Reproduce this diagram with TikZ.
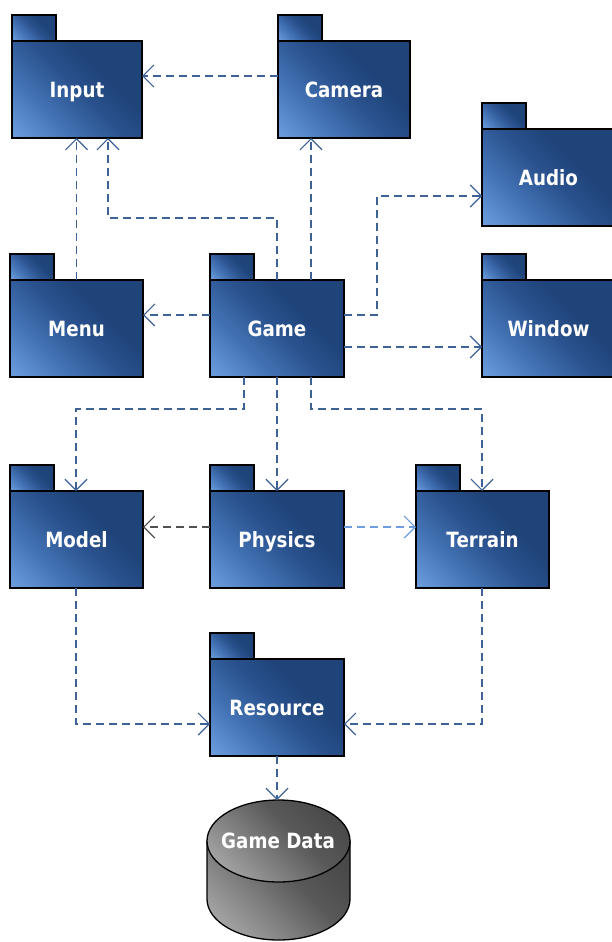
\documentclass[tikz,border=0pt]{standalone}
\usepackage{fontspec}
\setmainfont{DejaVu Sans}
\newfontfamily\lblfont{DejaVu Sans}[FakeStretch=0.87]
\usetikzlibrary{arrows.meta}
\definecolor{depblue}{RGB}{62,98,150}
\definecolor{depgray}{RGB}{80,80,80}
\definecolor{deplight}{RGB}{110,158,224}
\pgfdeclarehorizontalshading{pkgshade}{100bp}{%
  color(0bp)=(rgb,255:red,118;green,168;blue,232);
  color(15bp)=(rgb,255:red,108;green,158;blue,222);
  color(33bp)=(rgb,255:red,68;green,116;blue,182);
  color(50bp)=(rgb,255:red,42;green,82;blue,142);
  color(63bp)=(rgb,255:red,31;green,68;blue,122);
  color(100bp)=(rgb,255:red,31;green,68;blue,122)}
\pgfdeclarehorizontalshading{cylshade}{100bp}{%
  color(0bp)=(rgb,255:red,195;green,195;blue,195);
  color(15bp)=(rgb,255:red,182;green,182;blue,182);
  color(38bp)=(rgb,255:red,132;green,132;blue,132);
  color(58bp)=(rgb,255:red,88;green,88;blue,88);
  color(75bp)=(rgb,255:red,74;green,74;blue,74);
  color(100bp)=(rgb,255:red,74;green,74;blue,74)}
\tikzset{
  lbl/.style={text=white, font=\lblfont\bfseries\fontsize{21}{25}\selectfont,
    text height=15pt, text depth=0pt},
  pkgbody/.style={draw=black, line width=1.3pt, anchor=north west,
    shading=pkgshade, shading angle=45, lbl,
    minimum width=#1, minimum height=97pt, inner sep=0pt, outer sep=0pt},
  pkgbody/.default=133pt,
  pkgtab/.style={draw=black, line width=1.3pt, shading=pkgshade, shading angle=45},
  dep/.style={draw=depblue, line width=1.2pt, dash pattern=on 8pt off 5pt,
    -{Straight Barb[length=11pt,width=22pt]}},
  cylpart/.style={draw=black, line width=1.3pt, shading=cylshade, shading angle=45},
}
\newcommand\pkg[5]{%
  \node[pkgbody=#4] (#1) at (#2,#3) {#5};
  \draw[pkgtab] (#1.north west) rectangle ++(44,-26);
}
\begin{document}
\begin{tikzpicture}[x=1pt,y=-1pt]
\clip (0,0) rectangle (612,942);
\fill[white] (0,0) rectangle (612,942);

\pkg{Input}{12}{41}{130pt}{Input}
\pkg{Camera}{278}{41}{132pt}{Camera}
\pkg{Audio}{482}{129}{133pt}{Audio}
\pkg{Menu}{10}{280}{133pt}{Menu}
\pkg{Game}{210}{280}{134pt}{Game}
\pkg{Window}{482}{280}{133pt}{Window}
\pkg{Model}{10}{491}{133pt}{Model}
\pkg{Physics}{210}{491}{134pt}{Physics}
\pkg{Terrain}{416}{491}{133pt}{Terrain}
\pkg{Resource}{210}{659}{134pt}{Resource}

% database cylinder
\shade[cylpart] (207,841) -- (207,899) arc[start angle=180, end angle=0, x radius=71.5, y radius=41] -- (350,841) -- cycle;
\shade[cylpart] (207,841) arc[start angle=180, end angle=0, x radius=71.5, y radius=41]
  arc[start angle=0, end angle=-180, x radius=71.5, y radius=41] -- cycle;
\node[lbl] (db) at (278,841) {Game Data};
\coordinate (dbtop) at (278,800);

% helper coordinates
\coordinate (r1) at (0,76);
\coordinate (c3) at (108,218);
\coordinate (c4) at (311,0);
\coordinate (c5a) at (377,315);
\coordinate (c5b) at (377,196);
\coordinate (c6) at (0,347);
\coordinate (c8a) at (244,409);
\coordinate (c8b) at (76,409);
\coordinate (c10a) at (311,409);
\coordinate (c10b) at (482,409);
\coordinate (c11) at (0,527);
\coordinate (c13) at (76,724);
\coordinate (c14) at (482,724);

% dependencies
\draw[dep] (Camera.west |- r1) -- (Input.east |- r1);
\draw[dep] (Menu.north) -- (Menu.north |- Input.south);
\draw[dep] (Game.north) |- (c3) -- (c3 |- Input.south);
\draw[dep] (Game.north -| c4) -- (Camera.south -| c4);
\draw[dep] (Game.east |- c5a) -- (c5a) -- (c5b) -- (Audio.west |- c5b);
\draw[dep] (Game.east |- c6) -- (Window.west |- c6);
\draw[dep] (Game.west |- c5a) -- (Menu.east |- c5a);
\draw[dep] (Game.south -| c8a) -- (c8a) -- (c8b) -- (Model.north -| c8b);
\draw[dep] (Game.south) -- (Physics.north);
\draw[dep] (Game.south -| c10a) -- (c10a) -- (c10b) -- (Terrain.north -| c10b);
\draw[dep, draw=depgray] (Physics.west |- c11) -- (Model.east |- c11);
\draw[dep, draw=deplight] (Physics.east |- c11) -- (Terrain.west |- c11);
\draw[dep] (Model.south -| c13) -- (c13) -- (Resource.west |- c13);
\draw[dep] (Terrain.south -| c14) -- (c14) -- (Resource.east |- c14);
\draw[dep] (Resource.south) -- (Resource.south |- dbtop);
\end{tikzpicture}
\end{document}
